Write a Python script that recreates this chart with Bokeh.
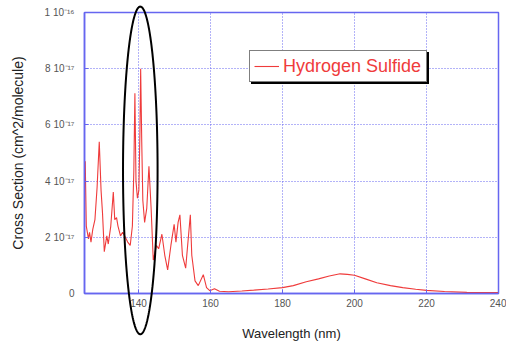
from bokeh.plotting import figure
from bokeh.models import ColumnDataSource, FixedTicker, Legend, LegendItem, Range1d
from bokeh.embed import file_html
from bokeh.resources import INLINE
import numpy as np

# ---- data (cross section in units of 1e-17 cm^2/molecule) ----
wavelength_nm = [125.2, 125.5, 126.1, 126.4, 126.8, 127.3, 127.9, 128.5, 129.1, 129.6,
                 130.0, 130.5, 131.2, 131.6, 132.3, 133.0, 133.4, 133.9, 134.3, 135.0,
                 135.6, 136.3, 137.0, 137.7, 138.3, 138.7, 139.0, 139.3, 139.7, 140.1,
                 140.4, 140.6, 140.9, 141.2, 141.7, 142.3, 142.9, 143.5, 144.1, 145.0,
                 145.6, 146.5, 147.3, 148.1, 149.0, 149.9, 150.4, 151.0, 151.5, 152.2,
                 153.1, 154.4, 154.8, 155.7, 156.6, 158.0, 158.9, 159.8, 161.1, 162.5,
                 165.0, 168.7, 172.0, 176.0, 180.0, 183.0, 186.6, 190.0, 193.0, 196.0,
                 198.0, 200.0, 203.0, 206.2, 210.0, 213.4, 217.0, 220.0, 225.0, 231.2,
                 236.0, 240.0]
cross_section_e17 = [4.71, 2.40, 1.94, 2.18, 1.83, 2.28, 2.63, 3.78, 5.40, 3.67,
                     2.87, 1.49, 2.05, 1.76, 2.40, 3.61, 2.63, 2.70, 2.40, 2.05,
                     2.18, 2.01, 1.83, 1.71, 2.40, 4.36, 7.13, 4.00, 3.39, 3.67,
                     5.74, 8.00, 5.40, 3.32, 2.53, 3.04, 4.53, 3.04, 1.19, 1.71,
                     1.59, 2.11, 1.36, 0.84, 1.71, 2.46, 1.83, 2.53, 2.80, 1.36,
                     0.90, 2.80, 1.36, 0.45, 0.28, 0.67, 0.21, 0.10, 0.17, 0.08,
                     0.06, 0.09, 0.12, 0.16, 0.21, 0.28, 0.42, 0.52, 0.62, 0.70,
                     0.68, 0.65, 0.52, 0.38, 0.28, 0.21, 0.15, 0.11, 0.07, 0.04,
                     0.03, 0.03]
series_name = "Hydrogen Sulfide"

x_ticks = [140, 160, 180, 200, 220, 240]
y_ticks = [0, 2, 4, 6, 8, 10]
y_tick_labels = ["0", "2 10\u207b\u00b9\u2077", "4 10\u207b\u00b9\u2077", "6 10\u207b\u00b9\u2077",
                 "8 10\u207b\u00b9\u2077", "1 10\u207b\u00b9\u2076"]

# highlight ellipse (data units)
ellipse_center = (140.5, 4.38)
ellipse_half_width = 4.8
ellipse_half_height = 5.83

BLUE = "#6666f0"
RED = "#ef3b3b"
FONT = "Liberation Sans"

src = ColumnDataSource(dict(x=wavelength_nm, y=cross_section_e17))

p = figure(width=506, height=343, output_backend="svg", toolbar_location=None,
           x_range=Range1d(125, 240), y_range=Range1d(0, 10),
           min_border_left=84, min_border_right=8, min_border_top=12, min_border_bottom=46,
           background_fill_color="white", border_fill_color="white")

r = p.line("x", "y", source=src, line_color=RED, line_width=1.1)

p.outline_line_color = BLUE
p.outline_line_width = 1.5

p.xaxis.ticker = FixedTicker(ticks=x_ticks)
p.yaxis.ticker = FixedTicker(ticks=y_ticks)
p.yaxis.major_label_overrides = {t: l for t, l in zip(y_ticks, y_tick_labels)}

for ax in (p.xaxis[0], p.yaxis[0]):
    ax.axis_line_color = BLUE
    ax.axis_line_width = 1.5
    ax.major_tick_line_color = BLUE
    ax.major_tick_in = 4
    ax.major_tick_out = 0
    ax.minor_tick_line_color = None
    ax.major_label_text_font = FONT
    ax.major_label_text_font_size = "10px"
    ax.major_label_text_color = "#555555"
    ax.axis_label_text_font = FONT
    ax.axis_label_text_font_style = "normal"
    ax.axis_label_text_color = "#222222"

p.xaxis.axis_label = "Wavelength (nm)"
p.yaxis.axis_label = "Cross Section (cm^2/molecule)"
p.xaxis.axis_label_text_font_size = "13px"
p.yaxis.axis_label_text_font_size = "14px"
p.xaxis.major_label_standoff = 5
p.xaxis.axis_label_standoff = 16
p.yaxis.major_label_standoff = 10
p.yaxis.axis_label_standoff = 16
p.yaxis.major_label_orientation = "horizontal"

for g, t in ((p.xgrid[0], x_ticks), (p.ygrid[0], y_ticks)):
    g.ticker = FixedTicker(ticks=t)
    g.grid_line_color = BLUE
    g.grid_line_dash = "1 2"
    g.grid_line_width = 1

legend_kw = dict(border_line_width=1.5, border_line_color="black", background_fill_alpha=1.0,
                 label_text_font=FONT, label_text_font_size="18px",
                 label_width=139, label_height=22,
                 glyph_width=25, label_standoff=4, padding=4, margin=0, spacing=0)
# drop shadow behind the legend (blank label, same box size)
shadow = Legend(items=[LegendItem(label=" ", renderers=[r])], location=(167, 209),
                background_fill_color="black", label_text_color="black", **legend_kw)
p.add_layout(shadow)
legend = Legend(items=[LegendItem(label=series_name, renderers=[r])], location=(165, 211),
                background_fill_color="white", label_text_color=RED, **legend_kw)
p.add_layout(legend)

theta = np.linspace(0, 2 * np.pi, 240)
ex = (ellipse_center[0] + ellipse_half_width * np.cos(theta)).tolist()
ey = (ellipse_center[1] + ellipse_half_height * np.sin(theta)).tolist()
p.line(ex, ey, line_color="black", line_width=2, level="overlay")

open("out.html", "w").write(file_html(p, INLINE))
